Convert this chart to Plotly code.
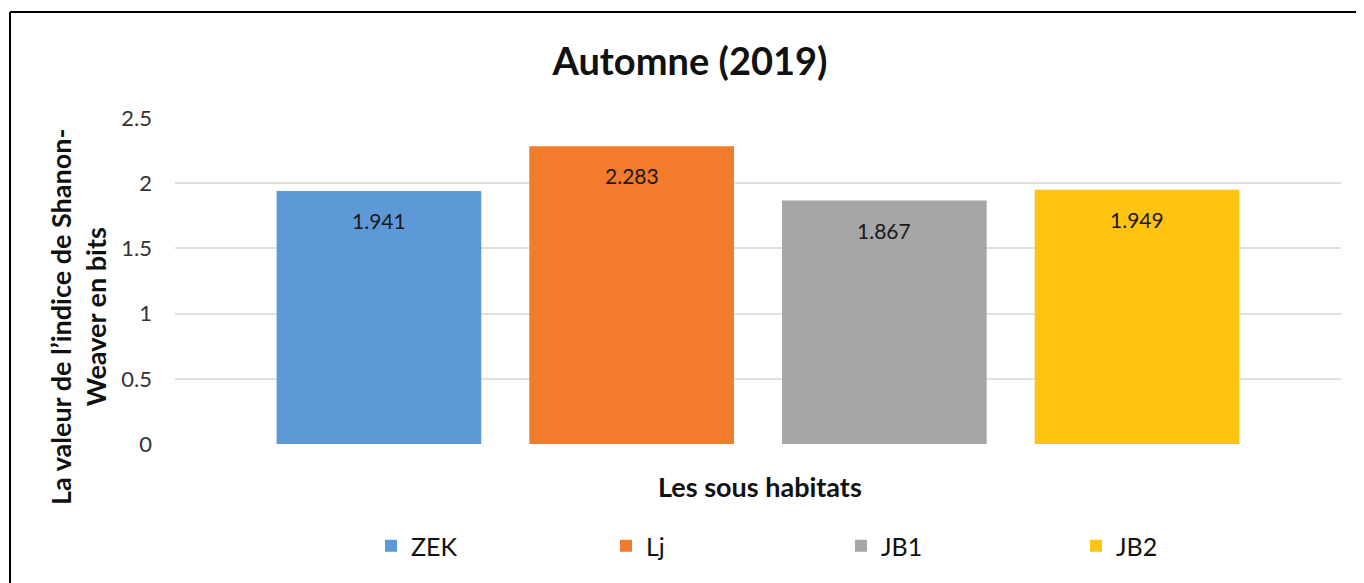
import plotly.graph_objects as go

categories = ["ZEK", "Lj", "JB1", "JB2"]
values = [1.941, 2.283, 1.867, 1.949]
labels = ["1.941", "2.283", "1.867", "1.949"]
colors = ["#5D99D6", "#F27B2C", "#A6A6A6", "#FFC412"]
y_ticks = [0, 0.5, 1, 1.5, 2, 2.5]
y_ticktext = ["0", "0.5", "1", "1.5", "2", "2.5"]

FONT = "Lato"
OFF = 8  # page body margin offset
W, H = 1364 - OFF, 583 - OFF
# plot area in reference pixels: x 175..1341, y 118..444
ML = 175 - OFF
MR = 1364 - 1341
MT = 118 - OFF
MB = 583 - 444
pw = W - ML - MR
ph = H - MT - MB

def px_x(px):
    return (px - OFF - ML) / pw

def px_y(py):
    return (H - MB - (py - OFF)) / ph

fig = go.Figure()
for c, v, col in zip(categories, values, colors):
    fig.add_trace(go.Bar(
        x=[c], y=[v], name=c,
        marker=dict(color=col, line=dict(width=0)),
        width=0.81, hoverinfo="x+y",
    ))

# data labels just below the top of each bar
for c, v, t in zip(categories, values, labels):
    fig.add_annotation(x=c, y=v, text=t, showarrow=False,
                       xanchor="center", yanchor="top", yshift=-15,
                       font=dict(family=FONT, size=21, color="#1a1a1a"))

fig.update_layout(
    width=W, height=H,
    margin=dict(l=ML, r=MR, t=MT, b=MB, autoexpand=False),
    paper_bgcolor="white", plot_bgcolor="white",
    barmode="overlay",
    showlegend=True,
    title=dict(text="<b>Automne (2019)</b>", x=(690 - OFF) / W, xanchor="center",
               y=1 - (62 - OFF) / H, yanchor="middle",
               font=dict(family=FONT, size=38, color="#111111")),
    xaxis=dict(range=[-0.807, 3.807], showticklabels=False, showgrid=False,
               zeroline=False, showline=False, ticks=""),
    yaxis=dict(range=[0, 2.5], tickvals=y_ticks, ticktext=y_ticktext,
               showgrid=True, gridcolor="#DDE1E6", gridwidth=1.5,
               zeroline=False, showline=False, ticks="",
               ticklabelstandoff=22,
               tickfont=dict(family=FONT, size=22, color="#333333")),
    legend=dict(orientation="h", x=px_x(371), xanchor="left",
                y=px_y(546), yanchor="middle",
                entrywidth=190, entrywidthmode="pixels",
                font=dict(family=FONT, size=25, color="#111111"),
                bgcolor="rgba(0,0,0,0)"),
    font=dict(family=FONT),
)

fig.add_annotation(text="<b>La valeur de l’indice de Shanon-<br>Weaver en bits</b>",
                   xref="paper", yref="paper", x=px_x(78), y=px_y(316),
                   xanchor="center", yanchor="middle", textangle=-90,
                   showarrow=False,
                   font=dict(family=FONT, size=27, color="#111111"))
fig.add_annotation(text="<b>Les sous habitats</b>",
                   xref="paper", yref="paper", x=px_x(760), y=px_y(487),
                   xanchor="center", yanchor="middle", showarrow=False,
                   font=dict(family=FONT, size=27, color="#111111"))

# outer frame (top and left edges visible)
fig.add_shape(type="line", xref="paper", yref="paper",
              x0=px_x(10), x1=px_x(1370), y0=px_y(12), y1=px_y(12),
              line=dict(color="black", width=2))
fig.add_shape(type="line", xref="paper", yref="paper",
              x0=px_x(10), x1=px_x(10), y0=px_y(12), y1=px_y(590),
              line=dict(color="black", width=2))

fig.write_html("out.html")
